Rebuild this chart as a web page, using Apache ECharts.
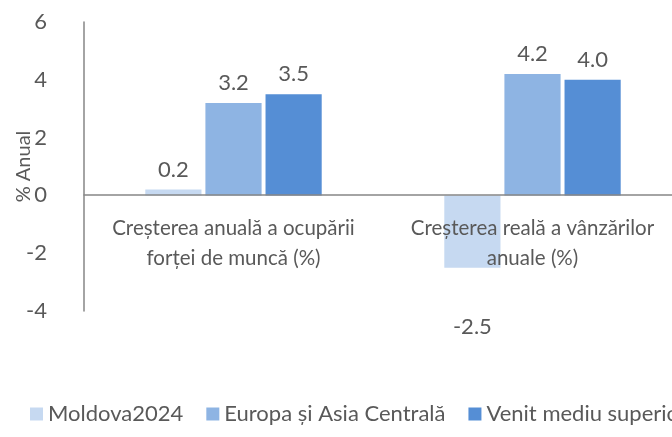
<!DOCTYPE html>
<html>
<head>
<meta charset="utf-8">
<script src="https://cdn.jsdelivr.net/npm/echarts@6/dist/echarts.min.js"></script>
<style>
  html, body { margin: 0; padding: 0; background: #fff; }
  #chart { width: 672px; height: 437px; }
</style>
</head>
<body>
<div id="chart"></div>
<script>
const categories = [
  'Creșterea anuală a ocupării\nforței de muncă (%)',
  'Creșterea reală a vânzărilor\nanuale (%)'
]
const seriesNames = ['Moldova2024', 'Europa și Asia Centrală', 'Venit mediu superior']
const moldova = [0.2, -2.5]
const europa = [3.2, 4.2]
const venit = [3.5, 4.0]
const yTicks = [-4, -2, 0, 2, 4, 6]

const colors = ['#c6d9f1', '#8eb4e3', '#558ed5']
const font = 'Lato, "Open Sans", sans-serif'
const textColor = '#595959'
const fs = 22

const chart = echarts.init(document.getElementById('chart'))

// negative values get their label pushed well below the bar, as in the source
function toData(values) {
  return values.map(v => v < 0
    ? { value: v, label: { position: 'bottom', distance: 48 } }
    : v)
}

const series = [moldova, europa, venit].map((vals, i) => ({
  name: seriesNames[i],
  type: 'bar',
  data: toData(vals),
  barGap: '7%',
  barCategoryGap: '41%',
  itemStyle: { color: colors[i] },
  label: {
    show: true,
    position: 'top',
    distance: 9,
    color: textColor,
    fontFamily: font,
    fontSize: fs,
    formatter: p => p.value.toFixed(1)
  }
}))

chart.setOption({
  animation: false,
  color: colors,
  grid: { left: 84, top: 22, bottom: 126, width: 598, outerBoundsMode: 'none', containLabel: false },
  legend: {
    left: 25,
    bottom: 7,
    width: 900,
    itemWidth: 13,
    itemHeight: 13,
    itemGap: 23,
    icon: 'rect',
    textStyle: { color: textColor, fontFamily: font, fontSize: fs },
    data: seriesNames
  },
  xAxis: {
    type: 'category',
    data: categories,
    offset: -116,
    z: 10,
    axisLine: { onZero: false, lineStyle: { color: '#868686', width: 1.5 } },
    axisTick: { show: false },
    axisLabel: {
      color: textColor,
      fontFamily: font,
      fontSize: 20.5,
      lineHeight: 30,
      margin: 18,
      interval: 0
    }
  },
  yAxis: {
    type: 'value',
    min: yTicks[0],
    max: yTicks[yTicks.length - 1],
    interval: 2,
    name: '% Anual',
    nameLocation: 'middle',
    nameGap: 50,
    nameMoveOverlap: false,
    nameTextStyle: { color: textColor, fontFamily: font, fontSize: 20 },
    axisLine: { show: true, lineStyle: { color: '#868686', width: 1.5 } },
    axisTick: { show: false },
    splitLine: { show: false },
    axisLabel: { color: textColor, fontFamily: font, fontSize: fs, margin: 37 }
  },
  series
})
</script>
</body>
</html>
